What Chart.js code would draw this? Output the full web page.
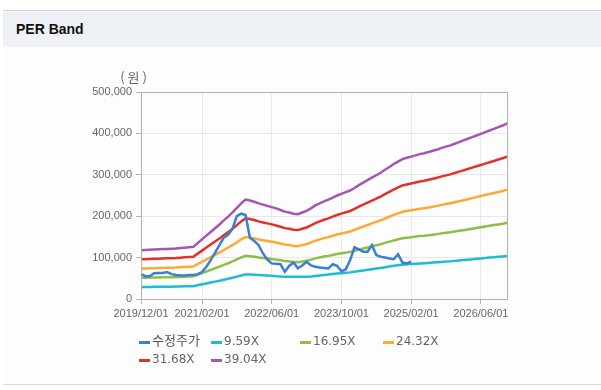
<!DOCTYPE html>
<html>
<head>
<meta charset="utf-8">
<script src="https://cdn.jsdelivr.net/npm/chart.js@4"></script>
<style>
  body { margin: 0; width: 601px; height: 390px; background: #fff; position: relative; overflow: hidden; font-family: "Liberation Sans", "Noto Sans CJK KR", sans-serif; }
  #panel { position: absolute; left: 3px; right: 0; top: 10px; height: 373px; background: #fdfdfd; border-top: 1px solid #d3d7db; border-bottom: 1px solid #d9d9d9; }
  #head { position: absolute; left: 0; right: 0; top: 0; height: 36px; background: #eef2f6; }
  #head span { position: absolute; left: 13px; top: 10px; font: bold 14px "Liberation Sans", "Noto Sans CJK KR", sans-serif; color: #111; }
  #wrap { position: absolute; left: 0; top: 60px; width: 601px; height: 270px; }
  #legend { position: absolute; left: 0; top: 0; width: 601px; height: 390px; pointer-events: none; }
  .item { position: absolute; height: 16px; line-height: 16px; font: 12px "DejaVu Sans", "Noto Sans CJK KR", sans-serif; color: #666; white-space: nowrap; }
  .item b { font-weight: normal; font-size: 13px; line-height: 1; font-family: "Noto Sans CJK KR", sans-serif; color: #555; position: relative; top: -1px; }
  .item i { display: inline-block; width: 11px; height: 3px; vertical-align: top; margin-top: 7px; margin-right: 2px; }
</style>
</head>
<body>
<div id="panel"><div id="head"><span>PER Band</span></div></div>
<div id="wrap"><canvas id="myChart"></canvas></div>
<div id="legend"></div>
<script>
// categorie: mesi da 2019/12 a 2026/12
var startYear = 2019, startMonth = 12, monthCount = 85;
var xTickLabels = ["2019/12/01", "2021/02/01", "2022/06/01", "2023/10/01", "2025/02/01", "2026/06/01"];
var yTicks = [0, 100000, 200000, 300000, 400000, 500000];
var seriesNames = ["수정주가", "9.59X", "16.95X", "24.32X", "31.68X", "39.04X"];
var seriesColors = ["#3a7fd6", "#1cbcd4", "#8cbf45", "#fca935", "#e3302a", "#a556b3"];

// prezzo corretto (won)
var price = [60000, 55000, 55000, 62000, 63000, 63000, 65000, 60000, 58000, 57000, 57000, 58000,
  58000, 60000, 65000, 78000, 94000, 112000, 130000, 148000, 155000, 170000, 200000, 206000,
  203000, 148000, 140000, 130000, 110000, 95000, 86000, 85000, 84000, 66000, 80000, 88000,
  74000, 81000, 90000, 81000, 78000, 76000, 75000, 74000, 84000, 80000, 67000, 72000,
  94000, 125000, 120000, 114000, 114000, 130000, 106000, 102000, 100000, 98000, 96000, 108000,
  88000, 86000, 90000];

var per959 = [29000, 29100, 29200, 29300, 29500, 29600, 29700, 29800, 30000, 30200, 30500, 30700,
  30900, 33200, 35400, 37600, 39800, 42000, 44200, 46700, 48900, 51300, 54000, 56700,
  59000, 59000, 58500, 58000, 57500, 57000, 56000, 55000, 54500, 54000, 53800, 53600,
  53500, 53500, 53800, 54500, 55500, 56700, 58000, 58900, 60200, 61400, 62400, 63400,
  64300, 65800, 67500, 69000, 70500, 72000, 73400, 74900, 76600, 78300, 80100, 81500,
  83000, 83700, 84500, 85200, 86000, 86500, 87200, 87900, 88700, 89600, 90400, 91100,
  92100, 93100, 94100, 95000, 96000, 97000, 98000, 99000, 100000, 100900, 101900, 102900,
  104100];

var per1695 = [51200, 51500, 51700, 51900, 52100, 52300, 52500, 52800, 53000, 53400, 53800, 54300,
  54700, 58600, 62500, 66400, 70300, 74200, 78200, 82500, 86400, 90700, 95500, 100300,
  104200, 103300, 102000, 100300, 99000, 97700, 96400, 95100, 93400, 91600, 90700, 89400,
  89000, 90700, 92500, 95100, 98100, 100300, 102500, 104200, 106400, 108600, 110300, 112000,
  113800, 116400, 119400, 122000, 124600, 127200, 129800, 132400, 135500, 138500, 141500, 144200,
  146800, 148100, 149400, 150700, 152000, 152800, 154100, 155400, 156700, 158500, 159800, 161100,
  162800, 164600, 166300, 168000, 169800, 171500, 173200, 175000, 176700, 178500, 180200, 181900,
  184100];

var per2432 = [73500, 73800, 74100, 74400, 74800, 75100, 75400, 75700, 76000, 76600, 77300, 77900,
  78500, 84100, 89700, 95300, 100900, 106500, 112100, 118400, 124000, 130200, 137100, 143900,
  149500, 148300, 146400, 143900, 142000, 140200, 138300, 136400, 133900, 131500, 130200, 128300,
  127700, 130200, 132700, 136400, 140800, 143900, 147000, 149500, 152600, 155800, 158200, 160700,
  163200, 167000, 171300, 175100, 178800, 182500, 186300, 190000, 194400, 198700, 203100, 206800,
  210600, 212400, 214300, 216200, 218100, 219300, 221200, 223000, 224900, 227400, 229300, 231100,
  233600, 236100, 238600, 241100, 243600, 246100, 248600, 251100, 253600, 256100, 258500, 261000,
  264200];

var per3168 = [95800, 96200, 96600, 97000, 97400, 97800, 98200, 98600, 99000, 99800, 100600, 101400,
  102200, 109600, 116900, 124200, 131500, 138800, 146100, 154200, 161500, 169600, 178500, 187500,
  194800, 193100, 190700, 187500, 185000, 182600, 180200, 177700, 174500, 171200, 169600, 167200,
  166400, 169600, 172800, 177700, 183400, 187500, 191500, 194800, 198800, 202900, 206100, 209400,
  212600, 217500, 223200, 228000, 232900, 237800, 242600, 247500, 253200, 258900, 264500, 269400,
  274300, 276700, 279200, 281600, 284000, 285600, 288100, 290500, 293000, 296200, 298600, 301100,
  304300, 307600, 310800, 314100, 317300, 320500, 323800, 327000, 330300, 333500, 336800, 340000,
  344100];

var per3904 = [118000, 118500, 119000, 119500, 120000, 120500, 121000, 121500, 122000, 123000, 124000, 125000,
  126000, 135000, 144000, 153000, 162000, 171000, 180000, 190000, 199000, 209000, 220000, 231000,
  240000, 238000, 235000, 231000, 228000, 225000, 222000, 219000, 215000, 211000, 209000, 206000,
  205000, 209000, 213000, 219000, 226000, 231000, 236000, 240000, 245000, 250000, 254000, 258000,
  262000, 268000, 275000, 281000, 287000, 293000, 299000, 305000, 312000, 319000, 326000, 332000,
  338000, 341000, 344000, 347000, 350000, 352000, 355000, 358000, 361000, 365000, 368000, 371000,
  375000, 379000, 383000, 387000, 391000, 395000, 399000, 403000, 407000, 411000, 415000, 419000,
  424000];

var allSeries = [price, per959, per1695, per2432, per3168, per3904];

function init() {
  var months = getMonths();
  var datasets = [];
  for (var i = 0; i < seriesNames.length; i++) {
    datasets.push({
      label: seriesNames[i],
      data: allSeries[i],
      borderColor: seriesColors[i],
      backgroundColor: seriesColors[i],
      borderWidth: 2.5,
      pointRadius: 0,
      tension: 0,
      fill: false
    });
  }

  // riquadro e unità dell'asse y
  var boxPlugin = {
    id: "box",
    afterDraw: function(chart) {
      var ctx = chart.ctx, a = chart.chartArea;
      ctx.save();
      ctx.strokeStyle = "#b3b3b3";
      ctx.lineWidth = 1;
      ctx.strokeRect(Math.round(a.left) + 0.5, Math.round(a.top) + 0.5, Math.round(a.right - a.left), Math.round(a.bottom - a.top));
      ctx.fillStyle = "#666";
      ctx.font = "13px 'Noto Sans CJK KR', sans-serif";
      ctx.letterSpacing = "3px";
      ctx.textAlign = "center";
      ctx.textBaseline = "middle";
      ctx.fillText("(원)", a.left - 6, a.top - 15);
      ctx.restore();
    }
  };

  var ctx = document.getElementById("myChart").getContext("2d");
  new Chart(ctx, {
    type: "line",
    data: { labels: months, datasets: datasets },
    plugins: [boxPlugin],
    options: {
      responsive: true,
      maintainAspectRatio: false,
      animation: false,
      layout: { padding: { top: 32, right: 94, left: 0, bottom: 0 } },
      plugins: { legend: { display: false }, tooltip: { enabled: false } },
      scales: {
        x: {
          afterFit: function(scale) { scale.height = 31; },
          afterBuildTicks: function(scale) {
            scale.ticks = scale.ticks.filter(function(t) { return xTickLabels.indexOf(months[t.value]) >= 0; });
          },
          grid: { color: "#e8e8e8", tickColor: "#b3b3b3", tickLength: 5 },
          border: { color: "#b3b3b3" },
          ticks: { autoSkip: false, maxRotation: 0, padding: 3, color: "#666", font: { family: "Liberation Sans", size: 11 } }
        },
        y: {
          min: 0,
          max: 500000,
          afterFit: function(scale) { scale.width = 141; },
          afterBuildTicks: function(scale) {
            scale.ticks = yTicks.map(function(v) { return { value: v }; });
          },
          grid: { color: "#e8e8e8", tickColor: "#b3b3b3", tickLength: 5 },
          border: { color: "#b3b3b3" },
          ticks: {
            padding: 4, color: "#666", font: { family: "Liberation Sans", size: 11 },
            callback: function(v) { return Number(v).toLocaleString("en-US"); }
          }
        }
      }
    }
  });

  makeLegend();
}

// etichette mensili dell'asse x
function getMonths() {
  var labels = [];
  var y = startYear, m = startMonth;
  for (var i = 0; i < monthCount; i++) {
    labels.push(y + "/" + (m < 10 ? "0" + m : m) + "/01");
    m++;
    if (m > 12) { m = 1; y++; }
  }
  return labels;
}

// legenda html su due righe
function makeLegend() {
  var cols = [139, 211, 300, 383];
  var rows = [334, 352];
  var box = document.getElementById("legend");
  for (var i = 0; i < seriesNames.length; i++) {
    var d = document.createElement("div");
    d.className = "item";
    d.style.left = cols[i % 4] + "px";
    d.style.top = rows[Math.floor(i / 4)] + "px";
    var txt = /[가-힣]/.test(seriesNames[i]) ? "<b>" + seriesNames[i] + "</b>" : seriesNames[i];
    d.innerHTML = '<i style="background:' + seriesColors[i] + '"></i>' + txt;
    box.appendChild(d);
  }
}

init();
</script>
</body>
</html>
